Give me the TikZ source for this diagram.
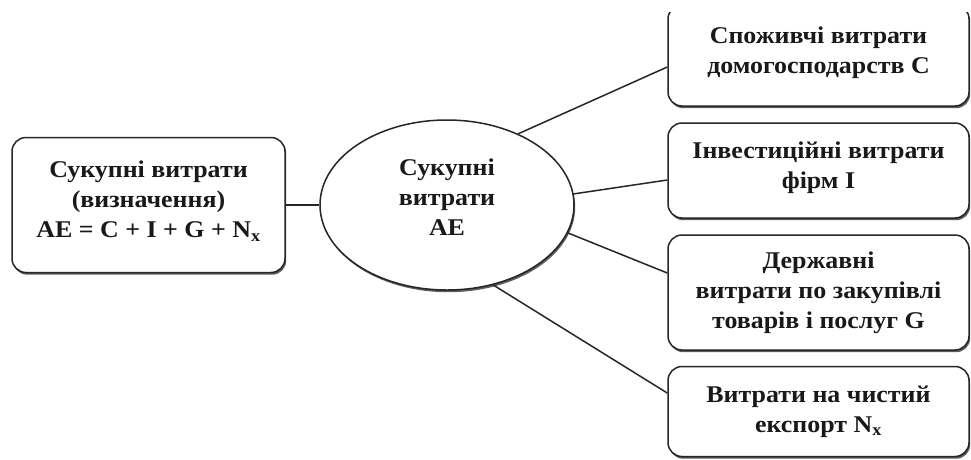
\documentclass[tikz,border=0pt]{standalone}
\usepackage{fontspec}
\setmainfont{Liberation Serif}[FakeStretch=1.08]
\usetikzlibrary{shadows,shapes.geometric}
\begin{document}
\begin{tikzpicture}[x=1pt,y=-1pt,
  txt/.style={align=center, font=\bfseries\fontsize{24}{30}\selectfont, text=black!90, inner sep=0pt},
  shad/.style={drop shadow={shadow xshift=1.2pt, shadow yshift=-2.2pt, fill=black!70, opacity=0.9}},
  box/.style={draw=black!85, line width=1.5pt, rounded corners=14pt, fill=white, inner sep=0pt, shad},
  oval/.style={draw=black!85, line width=1.5pt, ellipse, fill=white, inner sep=0pt, shad},
  conn/.style={draw=black!85, line width=1.5pt}]
\useasboundingbox (0,0) rectangle (971,459);
\fill[white] (0,0) rectangle (971,459);

\node[box, minimum width=273pt, minimum height=135pt,
  label={[txt, yshift=4pt]center:{Сукупні витрати\\(визначення)\\AE = C + I + G + N\textsubscript{x}}}] (def) at (148.5,205) {};
\node[oval, minimum width=254pt, minimum height=170pt,
  label={[txt, yshift=8pt]center:{Сукупні\\витрати\\AE}}] (ae) at (447,205) {};

\node[box, minimum width=301pt, minimum height=101pt,
  label={[txt, yshift=2.5pt]center:{Споживчі витрати\\домогосподарств С}}] (c) at (818.5,55.5) {};
\fill[white] (640,0) rectangle (971,12);
\node[box, minimum width=301pt, minimum height=95pt,
  label={[txt, yshift=3pt]center:{Інвестиційні витрати\\фірм І}}] (i) at (818.5,170.5) {};
\node[box, minimum width=301pt, minimum height=115pt,
  label={[txt]center:{Державні\\витрати по закупівлі\\товарів і послуг G}}] (g) at (818.5,292.5) {};
\node[box, minimum width=301pt, minimum height=90pt,
  label={[txt]center:{Витрати на чистий\\експорт N\textsubscript{x}}}] (n) at (818.5,411.5) {};

\draw[conn] (def.east) -- (ae.west);
\draw[conn] (ae.45) -- ([yshift=-11.5pt]c.west);
\draw[conn] (ae.5) -- ([yshift=-9.5pt]i.west);
\draw[conn] (ae.347) -- ([yshift=19.5pt]g.west);
\draw[conn] (ae.300) -- ([yshift=18.5pt]n.west);
\end{tikzpicture}
\end{document}
